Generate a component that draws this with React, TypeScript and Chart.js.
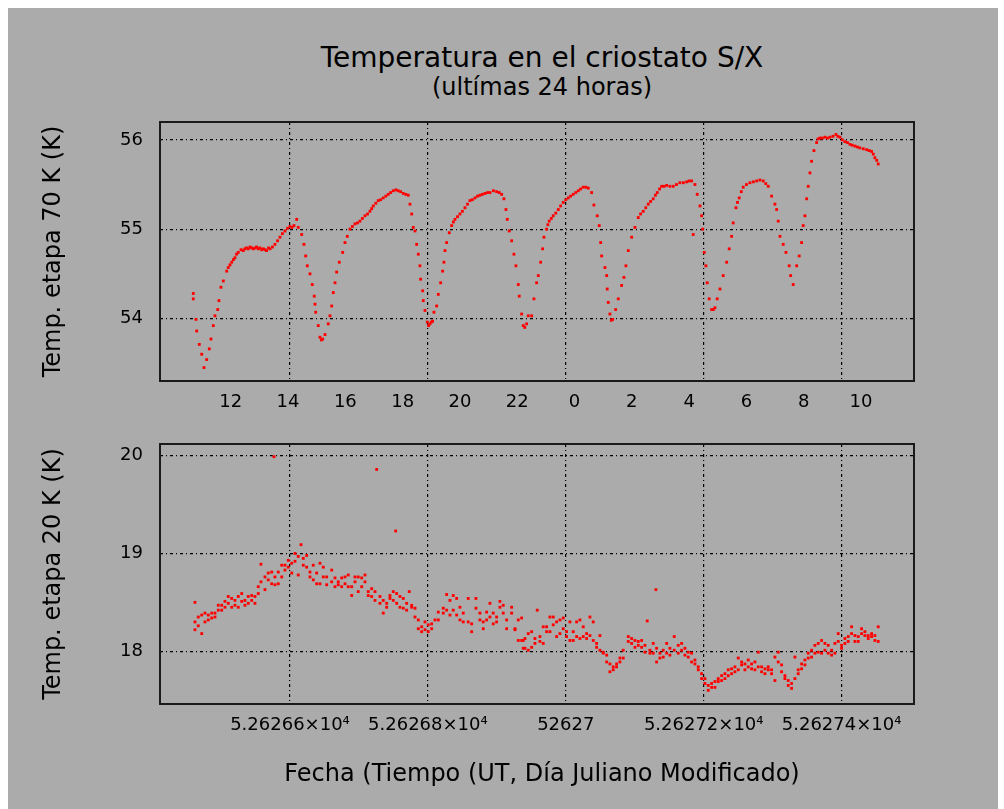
import React, { useEffect, useRef } from 'react';
import { Chart, registerables } from 'chart.js';

Chart.register(...registerables);

// ---- Axis definitions ----
const MJD0 = 52626; // Modified Julian Day of the start date
const T_MIN = 0.4115; // x range, days after MJD0
const T_MAX = 1.505;
const MJD_TICKS = [0.6, 0.8, 1.0, 1.2, 1.4];
const MJD_LABELS = ['5.26266×10⁴', '5.26268×10⁴', '52627', '5.26272×10⁴', '5.26274×10⁴'];
const HOUR_MIN = 9.53;
const HOUR_MAX = 35.85;
const HOUR_TICKS = [12, 14, 16, 18, 20, 22, 24, 26, 28, 30, 32, 34];
const HOUR_LABELS = ['12', '14', '16', '18', '20', '22', '0', '2', '4', '6', '8', '10'];
const T70_TICKS = [54, 55, 56];
const T70_RANGE = [53.3, 56.2];
const T20_TICKS = [18, 19, 20];
const T20_RANGE = [17.46, 20.12];

// ---- Data: [days after MJD0, temperature K] ----
const etapa70: number[][] = [
  [0.4598, 54.22], [0.4598, 54.28], [0.4637, 53.99], [0.4647, 53.86], [0.4685, 53.71], [0.4720, 53.60],
  [0.4753, 53.45], [0.4792, 53.54], [0.4830, 53.66], [0.4854, 53.77], [0.4888, 53.92], [0.4912, 54.03],
  [0.4952, 54.10], [0.4970, 54.20], [0.4999, 54.35], [0.5033, 54.42], [0.5082, 54.53], [0.5105, 54.57],
  [0.5130, 54.60], [0.5155, 54.63], [0.5180, 54.66], [0.5202, 54.68], [0.5225, 54.72], [0.5250, 54.74],
  [0.5290, 54.77], [0.5323, 54.76], [0.5345, 54.78], [0.5370, 54.79], [0.5395, 54.78], [0.5420, 54.80],
  [0.5445, 54.79], [0.5470, 54.78], [0.5495, 54.79], [0.5517, 54.80], [0.5540, 54.78], [0.5565, 54.79],
  [0.5590, 54.77], [0.5613, 54.78], [0.5640, 54.77], [0.5660, 54.76], [0.5690, 54.79], [0.5710, 54.78],
  [0.5745, 54.80], [0.5782, 54.83], [0.5820, 54.87], [0.5855, 54.91], [0.5890, 54.95], [0.5927, 54.98],
  [0.5965, 55.01], [0.6000, 55.03], [0.6030, 55.02], [0.6058, 55.04], [0.6097, 55.11], [0.6120, 55.02],
  [0.6170, 54.94], [0.6203, 54.83], [0.6228, 54.70], [0.6251, 54.59], [0.6290, 54.50], [0.6323, 54.38],
  [0.6352, 54.25], [0.6363, 54.16], [0.6373, 54.07], [0.6410, 53.92], [0.6435, 53.79], [0.6455, 53.76],
  [0.6474, 53.77], [0.6508, 53.82], [0.6555, 53.94], [0.6580, 54.03], [0.6605, 54.14], [0.6628, 54.29],
  [0.6653, 54.40], [0.6677, 54.52], [0.6715, 54.63], [0.6764, 54.74], [0.6798, 54.85], [0.6831, 54.92],
  [0.6870, 55.00], [0.6905, 55.03], [0.6943, 55.06], [0.6980, 55.07], [0.7015, 55.09], [0.7050, 55.12],
  [0.7088, 55.15], [0.7125, 55.17], [0.7160, 55.20], [0.7185, 55.23], [0.7208, 55.26], [0.7245, 55.29],
  [0.7280, 55.32], [0.7315, 55.33], [0.7353, 55.35], [0.7390, 55.37], [0.7425, 55.39], [0.7460, 55.41],
  [0.7498, 55.43], [0.7535, 55.44], [0.7570, 55.43], [0.7605, 55.42], [0.7643, 55.40], [0.7680, 55.39],
  [0.7716, 55.38], [0.7740, 55.28], [0.7765, 55.17], [0.7788, 55.02], [0.7813, 54.98], [0.7837, 54.83],
  [0.7861, 54.72], [0.7885, 54.59], [0.7895, 54.44], [0.7924, 54.31], [0.7933, 54.20], [0.7958, 54.09],
  [0.7991, 53.96], [0.8010, 53.92], [0.8030, 53.94], [0.8050, 53.96], [0.8069, 53.97], [0.8088, 54.07],
  [0.8127, 54.14], [0.8151, 54.27], [0.8185, 54.40], [0.8214, 54.53], [0.8233, 54.63], [0.8248, 54.76],
  [0.8272, 54.85], [0.8310, 54.96], [0.8345, 55.04], [0.8370, 55.08], [0.8393, 55.11], [0.8430, 55.14],
  [0.8465, 55.17], [0.8500, 55.20], [0.8538, 55.24], [0.8575, 55.28], [0.8610, 55.32], [0.8645, 55.33],
  [0.8683, 55.35], [0.8720, 55.37], [0.8755, 55.38], [0.8790, 55.39], [0.8828, 55.40], [0.8865, 55.41],
  [0.8900, 55.41], [0.8950, 55.43], [0.8997, 55.42], [0.9035, 55.41], [0.9070, 55.39], [0.9103, 55.34],
  [0.9132, 55.22], [0.9151, 55.11], [0.9180, 54.98], [0.9215, 54.87], [0.9248, 54.72], [0.9277, 54.59],
  [0.9311, 54.38], [0.9325, 54.25], [0.9360, 54.05], [0.9383, 53.92], [0.9405, 53.90], [0.9432, 53.94],
  [0.9456, 54.03], [0.9505, 54.03], [0.9538, 54.22], [0.9577, 54.40], [0.9601, 54.48], [0.9635, 54.63],
  [0.9664, 54.78], [0.9683, 54.91], [0.9722, 55.00], [0.9740, 55.05], [0.9760, 55.09], [0.9790, 55.12],
  [0.9818, 55.15], [0.9855, 55.18], [0.9891, 55.22], [0.9925, 55.26], [0.9963, 55.30], [1.0000, 55.33],
  [1.0036, 55.35], [1.0070, 55.37], [1.0108, 55.39], [1.0145, 55.41], [1.0181, 55.43], [1.0215, 55.45],
  [1.0253, 55.47], [1.0290, 55.47], [1.0326, 55.46], [1.0375, 55.41], [1.0408, 55.27], [1.0456, 55.15],
  [1.0485, 55.04], [1.0506, 54.85], [1.0520, 54.70], [1.0568, 54.57], [1.0593, 54.48], [1.0601, 54.33],
  [1.0616, 54.18], [1.0640, 54.05], [1.0660, 53.98], [1.0680, 53.99], [1.0723, 54.10], [1.0761, 54.22],
  [1.0810, 54.37], [1.0843, 54.46], [1.0872, 54.59], [1.0906, 54.76], [1.0955, 54.91], [1.1003, 55.02],
  [1.1051, 55.13], [1.1085, 55.17], [1.1123, 55.20], [1.1160, 55.24], [1.1196, 55.28], [1.1230, 55.31],
  [1.1268, 55.34], [1.1300, 55.38], [1.1326, 55.41], [1.1360, 55.45], [1.1390, 55.48], [1.1425, 55.48],
  [1.1463, 55.49], [1.1510, 55.48], [1.1558, 55.48], [1.1605, 55.50], [1.1655, 55.52], [1.1705, 55.52],
  [1.1753, 55.53], [1.1790, 55.54], [1.1825, 55.54], [1.1848, 54.94], [1.1873, 55.50], [1.1906, 55.39],
  [1.1946, 55.26], [1.1970, 55.15], [1.1985, 55.00], [1.2008, 54.74], [1.2032, 54.59], [1.2051, 54.40],
  [1.2080, 54.22], [1.2115, 54.10], [1.2140, 54.10], [1.2163, 54.12], [1.2196, 54.22], [1.2236, 54.33],
  [1.2283, 54.48], [1.2333, 54.63], [1.2370, 54.78], [1.2405, 54.92], [1.2428, 55.07], [1.2468, 55.24],
  [1.2490, 55.30], [1.2515, 55.35], [1.2545, 55.42], [1.2573, 55.47], [1.2620, 55.50], [1.2671, 55.52],
  [1.2720, 55.53], [1.2768, 55.54], [1.2815, 55.55], [1.2863, 55.54], [1.2900, 55.51], [1.2936, 55.48],
  [1.2985, 55.37], [1.3033, 55.28], [1.3058, 55.22], [1.3081, 55.09], [1.3106, 54.92], [1.3153, 54.83],
  [1.3193, 54.74], [1.3240, 54.59], [1.3261, 54.48], [1.3298, 54.38], [1.3348, 54.59], [1.3385, 54.70],
  [1.3420, 54.85], [1.3443, 55.04], [1.3468, 55.15], [1.3493, 55.34], [1.3516, 55.48], [1.3541, 55.63],
  [1.3565, 55.76], [1.3599, 55.88], [1.3638, 55.97], [1.3660, 56.01], [1.3686, 56.02], [1.3720, 56.02],
  [1.3758, 56.03], [1.3795, 56.02], [1.3831, 56.03], [1.3875, 56.04], [1.3918, 56.06], [1.3945, 56.04],
  [1.3976, 56.03], [1.4010, 56.00], [1.4048, 55.98], [1.4085, 55.97], [1.4121, 55.95], [1.4155, 55.94],
  [1.4193, 55.93], [1.4230, 55.92], [1.4266, 55.91], [1.4315, 55.90], [1.4363, 55.89], [1.4400, 55.88],
  [1.4435, 55.87], [1.4460, 55.84], [1.4483, 55.80], [1.4510, 55.77], [1.4531, 55.73],
];

const etapa20: number[][] = [
  [0.4622, 18.50], [0.4622, 18.30], [0.4622, 18.22], [0.4670, 18.35], [0.4670, 18.26], [0.4720, 18.37],
  [0.4720, 18.18], [0.4767, 18.39], [0.4767, 18.30], [0.4815, 18.37], [0.4815, 18.32], [0.4865, 18.39],
  [0.4865, 18.34], [0.4912, 18.39], [0.4912, 18.35], [0.4960, 18.47], [0.4960, 18.42], [0.5010, 18.47],
  [0.5010, 18.42], [0.5057, 18.51], [0.5057, 18.45], [0.5105, 18.56], [0.5105, 18.49], [0.5155, 18.54],
  [0.5155, 18.45], [0.5202, 18.52], [0.5202, 18.47], [0.5250, 18.56], [0.5250, 18.45], [0.5300, 18.59],
  [0.5300, 18.51], [0.5347, 18.52], [0.5347, 18.47], [0.5395, 18.56], [0.5395, 18.49], [0.5445, 18.57],
  [0.5445, 18.52], [0.5492, 18.56], [0.5492, 18.49], [0.5540, 18.66], [0.5540, 18.59], [0.5579, 18.89],
  [0.5579, 18.71], [0.5637, 18.76], [0.5637, 18.63], [0.5685, 18.80], [0.5685, 18.73], [0.5735, 18.81],
  [0.5735, 18.69], [0.5768, 19.99], [0.5782, 18.76], [0.5782, 18.68], [0.5830, 18.81], [0.5830, 18.69],
  [0.5880, 18.88], [0.5880, 18.76], [0.5927, 18.88], [0.5927, 18.83], [0.5975, 18.93], [0.5975, 18.86],
  [0.6025, 18.90], [0.6025, 18.80], [0.6073, 19.00], [0.6073, 18.92], [0.6120, 18.97], [0.6120, 18.78],
  [0.6160, 19.09], [0.6193, 18.95], [0.6193, 18.88], [0.6242, 18.98], [0.6242, 18.86], [0.6290, 18.81],
  [0.6290, 18.76], [0.6338, 18.88], [0.6338, 18.73], [0.6387, 18.80], [0.6387, 18.69], [0.6435, 18.90],
  [0.6435, 18.69], [0.6483, 18.86], [0.6483, 18.76], [0.6532, 18.76], [0.6532, 18.68], [0.6605, 18.83],
  [0.6605, 18.71], [0.6653, 18.75], [0.6653, 18.66], [0.6700, 18.71], [0.6700, 18.68], [0.6750, 18.75],
  [0.6750, 18.66], [0.6798, 18.76], [0.6798, 18.69], [0.6845, 18.78], [0.6845, 18.66], [0.6895, 18.66],
  [0.6895, 18.57], [0.6943, 18.76], [0.6943, 18.71], [0.6990, 18.76], [0.6990, 18.61], [0.7040, 18.75],
  [0.7040, 18.66], [0.7088, 18.78], [0.7088, 18.71], [0.7135, 18.61], [0.7135, 18.57], [0.7185, 18.64],
  [0.7185, 18.56], [0.7233, 18.61], [0.7233, 18.52], [0.7257, 19.86], [0.7305, 18.56], [0.7305, 18.49],
  [0.7353, 18.52], [0.7353, 18.39], [0.7402, 18.49], [0.7402, 18.45], [0.7450, 18.57], [0.7450, 18.54],
  [0.7498, 18.61], [0.7498, 18.52], [0.7533, 19.23], [0.7547, 18.59], [0.7547, 18.49], [0.7595, 18.56],
  [0.7595, 18.45], [0.7643, 18.54], [0.7643, 18.44], [0.7692, 18.49], [0.7692, 18.42], [0.7730, 18.61],
  [0.7765, 18.47], [0.7765, 18.45], [0.7813, 18.44], [0.7813, 18.35], [0.7861, 18.32], [0.7861, 18.23],
  [0.7910, 18.25], [0.7910, 18.20], [0.7958, 18.30], [0.7958, 18.22], [0.8005, 18.27], [0.8005, 18.20],
  [0.8055, 18.28], [0.8055, 18.23], [0.8103, 18.32], [0.8151, 18.40], [0.8151, 18.32], [0.8223, 18.44],
  [0.8223, 18.39], [0.8272, 18.58], [0.8272, 18.42], [0.8320, 18.52], [0.8320, 18.37], [0.8368, 18.57],
  [0.8368, 18.42], [0.8417, 18.54], [0.8417, 18.37], [0.8465, 18.45], [0.8465, 18.32], [0.8513, 18.39],
  [0.8513, 18.30], [0.8585, 18.54], [0.8585, 18.30], [0.8635, 18.28], [0.8635, 18.20], [0.8697, 18.54],
  [0.8697, 18.44], [0.8755, 18.39], [0.8755, 18.32], [0.8803, 18.30], [0.8803, 18.23], [0.8852, 18.40],
  [0.8852, 18.32], [0.8900, 18.49], [0.8900, 18.35], [0.8948, 18.39], [0.8948, 18.28], [0.8997, 18.35],
  [0.8997, 18.30], [0.9045, 18.51], [0.9045, 18.45], [0.9093, 18.47], [0.9093, 18.39], [0.9142, 18.32],
  [0.9142, 18.23], [0.9215, 18.45], [0.9215, 18.39], [0.9263, 18.23], [0.9263, 18.22], [0.9311, 18.32],
  [0.9311, 18.11], [0.9360, 18.34], [0.9360, 18.11], [0.9383, 18.11], [0.9383, 18.03], [0.9408, 18.13],
  [0.9408, 18.03], [0.9456, 18.18], [0.9456, 18.01], [0.9505, 18.20], [0.9505, 18.04], [0.9553, 18.13],
  [0.9553, 18.08], [0.9586, 18.42], [0.9625, 18.15], [0.9625, 18.10], [0.9673, 18.25], [0.9673, 18.08],
  [0.9722, 18.25], [0.9722, 18.20], [0.9770, 18.20], [0.9770, 18.35], [0.9818, 18.35], [0.9818, 18.27],
  [0.9867, 18.30], [0.9867, 18.15], [0.9915, 18.32], [0.9915, 18.18], [0.9963, 18.34], [0.9963, 18.23],
  [1.0012, 18.20], [1.0012, 18.15], [1.0060, 18.30], [1.0060, 18.11], [1.0108, 18.20], [1.0108, 18.11],
  [1.0157, 18.30], [1.0157, 18.15], [1.0205, 18.32], [1.0205, 18.13], [1.0253, 18.25], [1.0253, 18.15],
  [1.0302, 18.13], [1.0302, 18.18], [1.0350, 18.35], [1.0350, 18.16], [1.0398, 18.30], [1.0398, 18.11],
  [1.0447, 18.08], [1.0447, 18.04], [1.0495, 18.16], [1.0495, 18.01], [1.0543, 17.99], [1.0543, 17.98],
  [1.0593, 17.96], [1.0593, 17.89], [1.0640, 17.87], [1.0640, 17.79], [1.0688, 17.84], [1.0688, 17.81],
  [1.0737, 17.87], [1.0737, 17.84], [1.0785, 17.93], [1.0785, 17.89], [1.0833, 18.01], [1.0833, 17.93],
  [1.0906, 18.15], [1.0906, 18.10], [1.0955, 18.13], [1.0955, 18.08], [1.1003, 18.11], [1.1003, 18.04],
  [1.1051, 18.10], [1.1051, 18.06], [1.1100, 18.11], [1.1100, 18.04], [1.1148, 18.06], [1.1148, 17.99],
  [1.1181, 18.31], [1.1220, 18.01], [1.1220, 17.98], [1.1268, 18.08], [1.1268, 17.98], [1.1307, 18.63],
  [1.1317, 18.03], [1.1317, 17.89], [1.1365, 17.98], [1.1365, 17.93], [1.1413, 18.01], [1.1413, 17.94],
  [1.1463, 18.08], [1.1463, 17.98], [1.1510, 18.03], [1.1510, 17.96], [1.1573, 18.15], [1.1573, 18.01],
  [1.1631, 18.06], [1.1631, 17.98], [1.1680, 18.08], [1.1680, 18.01], [1.1728, 18.03], [1.1728, 17.96],
  [1.1776, 17.99], [1.1776, 17.94], [1.1825, 17.98], [1.1825, 17.89], [1.1873, 17.91], [1.1873, 17.87],
  [1.1921, 17.84], [1.1921, 17.81], [1.1970, 17.77], [1.1970, 17.72], [1.2018, 17.72], [1.2018, 17.67],
  [1.2066, 17.65], [1.2066, 17.60], [1.2115, 17.63], [1.2115, 17.67], [1.2163, 17.69], [1.2163, 17.63],
  [1.2211, 17.72], [1.2211, 17.69], [1.2260, 17.75], [1.2260, 17.70], [1.2308, 17.77], [1.2308, 17.72],
  [1.2356, 17.81], [1.2356, 17.75], [1.2405, 17.82], [1.2405, 17.77], [1.2453, 17.84], [1.2453, 17.79],
  [1.2501, 17.93], [1.2501, 17.81], [1.2550, 17.89], [1.2550, 17.86], [1.2598, 17.87], [1.2598, 17.81],
  [1.2646, 17.91], [1.2646, 17.84], [1.2695, 17.87], [1.2695, 17.82], [1.2743, 17.89], [1.2743, 17.81],
  [1.2791, 17.99], [1.2791, 17.84], [1.2840, 17.84], [1.2840, 17.79], [1.2888, 17.82], [1.2888, 17.77],
  [1.2936, 17.84], [1.2936, 17.81], [1.2985, 17.81], [1.2985, 17.77], [1.3033, 17.94], [1.3033, 17.70],
  [1.3081, 17.99], [1.3081, 17.89], [1.3130, 17.86], [1.3130, 17.79], [1.3178, 17.75], [1.3178, 17.72],
  [1.3226, 17.70], [1.3226, 17.65], [1.3275, 17.67], [1.3275, 17.62], [1.3323, 17.72], [1.3323, 17.94],
  [1.3371, 17.81], [1.3371, 17.77], [1.3420, 17.87], [1.3420, 17.82], [1.3468, 17.91], [1.3468, 17.86],
  [1.3516, 17.98], [1.3516, 17.93], [1.3565, 18.01], [1.3565, 17.94], [1.3613, 18.06], [1.3613, 17.98],
  [1.3661, 18.08], [1.3661, 17.99], [1.3710, 18.11], [1.3710, 17.98], [1.3758, 18.08], [1.3758, 18.01],
  [1.3806, 18.06], [1.3806, 17.98], [1.3855, 18.01], [1.3855, 17.96], [1.3903, 18.08], [1.3903, 17.98],
  [1.3951, 18.18], [1.3951, 18.10], [1.4000, 18.06], [1.4000, 18.03], [1.4048, 18.13], [1.4048, 18.08],
  [1.4096, 18.15], [1.4096, 18.10], [1.4145, 18.25], [1.4145, 18.18], [1.4193, 18.16], [1.4193, 18.10],
  [1.4241, 18.15], [1.4241, 18.10], [1.4290, 18.23], [1.4290, 18.18], [1.4338, 18.20], [1.4338, 18.16],
  [1.4386, 18.16], [1.4386, 18.13], [1.4435, 18.18], [1.4435, 18.15], [1.4483, 18.16], [1.4483, 18.11],
  [1.4531, 18.25], [1.4531, 18.10],
];

// ---- Styling ----
const BG = '#ababab';
const FONT = "'DejaVu Sans', sans-serif";
const GRID_DASH = [3, 3, 1, 3];

const framePlugin = {
  id: 'frame',
  afterDraw(chart: any) {
    const { ctx, chartArea: a } = chart;
    ctx.save();
    ctx.strokeStyle = '#1a1a1a';
    ctx.lineWidth = 2;
    ctx.strokeRect(a.left, a.top, a.right - a.left, a.bottom - a.top);
    ctx.restore();
  },
};

type PanelOpts = {
  data: number[][];
  range: number[];
  yTicks: number[];
  yTitle: string;
  padTop: number;
  xHeight: number;
  hours: boolean;
};

const noPad = (s: any) => {
  s.paddingTop = 0;
  s.paddingBottom = 0;
  s.paddingLeft = 0;
  s.paddingRight = 0;
};

function makeConfig(p: PanelOpts): any {
  const tickFont = { family: FONT, size: 18 };
  const grid = { color: '#000', lineWidth: 1.2, drawTicks: false, tickLength: 0 };
  const scales: any = {
    x: {
      type: 'linear',
      position: 'bottom',
      min: MJD0 + T_MIN,
      max: MJD0 + T_MAX,
      afterBuildTicks: (s: any) => {
        s.ticks = MJD_TICKS.map((v) => ({ value: MJD0 + v }));
      },
      afterFit: (s: any) => {
        s.height = p.hours ? 0 : p.xHeight;
        noPad(s);
      },
      grid,
      border: { display: false, dash: GRID_DASH },
      ticks: {
        display: !p.hours,
        autoSkip: false,
        maxRotation: 0,
        padding: 11,
        color: '#000',
        font: tickFont,
        callback: (_v: any, i: number) => MJD_LABELS[i],
      },
    },
    y: {
      type: 'linear',
      min: p.range[0],
      max: p.range[1],
      afterBuildTicks: (s: any) => {
        s.ticks = p.yTicks.map((v) => ({ value: v }));
      },
      afterFit: (s: any) => {
        s.width = 160;
        noPad(s);
      },
      grid,
      border: { display: false, dash: GRID_DASH },
      ticks: {
        autoSkip: false,
        padding: 17,
        color: '#000',
        font: tickFont,
        callback: (v: any) => String(v),
      },
      title: {
        display: true,
        text: p.yTitle,
        color: '#000',
        font: { family: FONT, size: 24 },
        padding: { top: 39, bottom: 0 },
      },
    },
  };
  if (p.hours) {
    scales.hours = {
      type: 'linear',
      position: 'bottom',
      min: HOUR_MIN,
      max: HOUR_MAX,
      afterBuildTicks: (s: any) => {
        s.ticks = HOUR_TICKS.map((v) => ({ value: v }));
      },
      afterFit: (s: any) => {
        s.height = p.xHeight;
        noPad(s);
      },
      grid: { display: false, drawTicks: false },
      border: { display: false },
      ticks: {
        autoSkip: false,
        maxRotation: 0,
        padding: 11,
        color: '#000',
        font: tickFont,
        callback: (_v: any, i: number) => HOUR_LABELS[i],
      },
    };
  }
  return {
    type: 'scatter',
    data: {
      datasets: [
        {
          data: p.data.map(([t, k]) => ({ x: MJD0 + t, y: k })),
          backgroundColor: '#ff0000',
          borderWidth: 0,
          pointStyle: 'rect',
          pointRadius: 2,
          pointHoverRadius: 2,
        },
      ],
    },
    options: {
      responsive: false,
      animation: false,
      events: [],
      layout: { autoPadding: false, padding: { left: 0, right: 90, top: p.padTop, bottom: 0 } },
      plugins: { legend: { display: false }, tooltip: { enabled: false }, title: { display: false } },
      scales,
    },
    plugins: [framePlugin],
  };
}

function Panel(props: { opts: PanelOpts; top: number; height: number }) {
  const ref = useRef<HTMLCanvasElement | null>(null);
  useEffect(() => {
    if (!ref.current) return;
    const chart = new Chart(ref.current, makeConfig(props.opts));
    return () => chart.destroy();
  }, []);
  return (
    <canvas
      ref={ref}
      width={1004}
      height={props.height}
      style={{ position: 'absolute', left: 0, top: props.top, width: 1004, height: props.height }}
    />
  );
}

const textStyle = (top: number, size: number): React.CSSProperties => ({
  position: 'absolute',
  left: 142,
  width: 800,
  top,
  textAlign: 'center',
  fontFamily: FONT,
  fontSize: size,
  lineHeight: `${size + 4}px`,
  color: '#000',
  whiteSpace: 'nowrap',
});

export default function App() {
  useEffect(() => {
    document.body.style.overflow = 'hidden';
  }, []);
  return (
    <div style={{ position: 'fixed', left: 0, top: 0, width: 1004, height: 809, background: '#fff', overflow: 'hidden' }}>
      <div style={{ position: 'absolute', left: 8, top: 8, width: 990, height: 801, background: BG }} />
      <div style={textStyle(42, 28)}>Temperatura en el criostato S/X</div>
      <div style={textStyle(73, 24)}>(ultímas 24 horas)</div>
      <Panel
        top={0}
        height={425}
        opts={{ data: etapa70, range: T70_RANGE, yTicks: T70_TICKS, yTitle: 'Temp. etapa 70 K (K)', padTop: 122, xHeight: 44, hours: true }}
      />
      <Panel
        top={425}
        height={384}
        opts={{ data: etapa20, range: T20_RANGE, yTicks: T20_TICKS, yTitle: 'Temp. etapa 20 K (K)', padTop: 19, xHeight: 105, hours: false }}
      />
      <div style={textStyle(759, 24)}>Fecha (Tiempo (UT, Día Juliano Modificado)</div>
    </div>
  );
}
